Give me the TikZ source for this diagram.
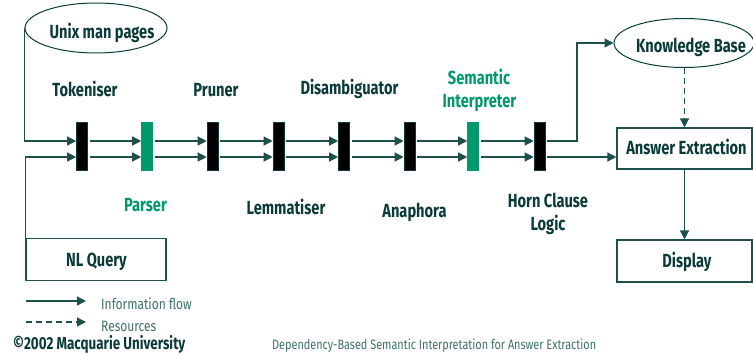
\documentclass[tikz,border=0pt]{standalone}
\usepackage{fontspec}
\usetikzlibrary{arrows.meta,shapes.geometric,calc}
\newfontfamily\labfont{Fira Sans}[FakeStretch=0.77]
\newfontfamily\smallfont{Fira Sans}[FakeStretch=0.8]
\definecolor{ink}{HTML}{0B3B38}
\definecolor{grn}{HTML}{00996A}
\definecolor{ln}{HTML}{1F504C}
\definecolor{lg}{HTML}{3E716B}
\begin{document}
\begin{tikzpicture}[x=1pt,y=-1pt,
  lab/.style={font=\labfont\bfseries\fontsize{19}{22}\selectfont, text=ink, inner sep=0, anchor=base},
  glab/.style={lab, text=grn},
  bar/.style={rectangle, minimum width=11pt, minimum height=48pt, inner sep=0, fill=black, draw=ink, line width=0.6pt},
  gbar/.style={bar, fill=grn, draw=grn},
  flow/.style={draw=ln, line width=1.3pt, -{Triangle[length=9pt,width=9pt]}},
  res/.style={flow, dash pattern=on 6pt off 4pt},
  box/.style={rectangle, draw=ln, line width=1.1pt, inner sep=0},
  oval/.style={ellipse, draw=ink, line width=1pt, inner sep=0},
  leg/.style={font=\smallfont\fontsize{15}{17}\selectfont, text=lg, inner sep=0, anchor=base west},
  foot/.style={font=\smallfont\fontsize{13.6}{16}\selectfont, text=lg, inner sep=0, anchor=base west},
  copy/.style={font=\labfont\bfseries\fontsize{17.4}{20}\selectfont, text=ink, inner sep=0, anchor=base west}
]
\useasboundingbox (0,0) rectangle (753,355);
\fill[white] (0,0) rectangle (753,355);

% ovals and boxes
\node[oval, minimum width=142pt, minimum height=50pt] (unix) at (96,28) {};
\node[lab] at (102,39) {Unix man pages};
\node[oval, minimum width=140pt, minimum height=49pt] (kb) at (684,43) {};
\node[lab] at (691,53) {Knowledge Base};
\node[box, minimum width=140pt, minimum height=42pt] (nl) at (96,259.5) {};
\node[lab] at (96.5,267) {NL Query};
\node[box, minimum width=135pt, minimum height=41pt] (ae) at (684.5,148.5) {};
\node[lab] at (686.5,155) {Answer Extraction};
\node[box, minimum width=135pt, minimum height=42pt] (disp) at (684.5,261) {};
\node[lab] at (687,268) {Display};

% bars
\node[bar]  (b1) at (82,146) {};
\node[gbar] (b2) at (147,146) {};
\node[bar]  (b3) at (212.5,146) {};
\node[bar]  (b4) at (278.5,146) {};
\node[bar]  (b5) at (344,146) {};
\node[bar]  (b6) at (409.5,146) {};
\node[gbar] (b7) at (473,146) {};
\node[bar]  (b8) at (539.5,146) {};

% labels
\node[lab] at (85,97) {Tokeniser};
\node[lab] at (216,97) {Pruner};
\node[lab] at (349.5,95) {Disambiguator};
\node[glab] at (479,85) {Semantic};
\node[glab] at (479.5,108) {Interpreter};
\node[glab] at (145.5,212) {Parser};
\node[lab] at (286,215) {Lemmatiser};
\node[lab] at (414.5,218) {Anaphora};
\node[lab] at (548,208) {Horn Clause};
\node[lab] at (548,231) {Logic};

% flows into first bar
\draw[flow] (unix.west) |- ([yshift=5pt]b1.west);
\draw[flow] (nl.north west) |- ([yshift=-11pt]b1.west);

% flows between bars
\foreach \a/\b in {b1/b2,b2/b3,b3/b4,b4/b5,b5/b6,b6/b7,b7/b8}{
  \draw[flow, shorten <=2pt] ([yshift=5pt]\a.east) -- ([yshift=5pt]\b.west);
  \draw[flow, shorten <=2pt] ([yshift=-11pt]\a.east) -- ([yshift=-11pt]\b.west);
}

% out of last bar
\coordinate (turn) at (577,43);
\draw[flow, shorten <=2pt] ([yshift=5pt]b8.east) -| (turn) -- (kb.west);
\draw[flow, shorten <=2pt] ([yshift=-11pt]b8.east) -- ([yshift=-11pt]b8.east -| ae.west);
\draw[res] (kb.south -| ae.north) -- (ae.north);
\draw[flow] (ae.south) -- (disp.north);

% legend
\coordinate (la1) at (26,301);
\coordinate (la2) at (86,301);
\coordinate (lb1) at (26,322);
\coordinate (lb2) at (86,322);
\draw[flow] (la1) -- (la2);
\draw[res] (lb1) -- (lb2);
\node[leg] at (101,310) {Information flow};
\node[leg] at (101,332) {Resources};
\node[copy] at (13,349.5) {\textcopyright2002 Macquarie University};
\node[foot] at (272,349.5) {Dependency-Based Semantic Interpretation for Answer Extraction};
\end{tikzpicture}
\end{document}
